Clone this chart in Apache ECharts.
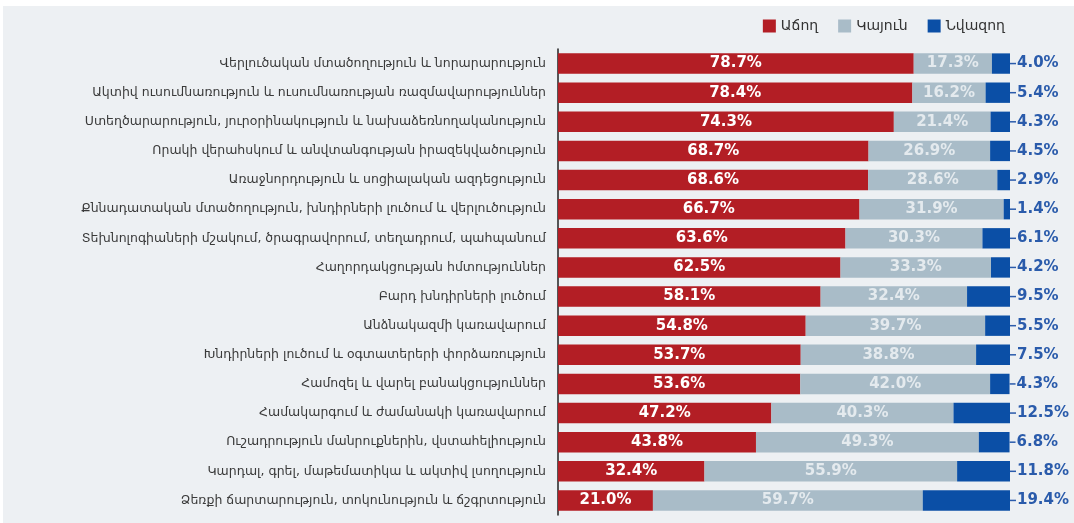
<!DOCTYPE html>
<html>
<head>
<meta charset="utf-8">
<script src="https://cdn.jsdelivr.net/npm/echarts@6/dist/echarts.min.js"></script>
<style>
  html, body { margin: 0; padding: 0; background: #fff; }
  #chart { position: absolute; left: 3px; top: 6px; width: 1071px; height: 517px; }
</style>
</head>
<body>
<div id="chart"></div>
<script>
// հմտություններ
var categories = [
  'Վերլուծական մտածողություն և նորարարություն',
  'Ակտիվ ուսումնառություն և ուսումնառության ռազմավարություններ',
  'Ստեղծարարություն, յուրօրինակություն և նախաձեռնողականություն',
  'Որակի վերահսկում և անվտանգության իրազեկվածություն',
  'Առաջնորդություն և սոցիալական ազդեցություն',
  'Քննադատական մտածողություն, խնդիրների լուծում և վերլուծություն',
  'Տեխնոլոգիաների մշակում, ծրագրավորում, տեղադրում, պահպանում',
  'Հաղորդակցության հմտություններ',
  'Բարդ խնդիրների լուծում',
  'Անձնակազմի կառավարում',
  'Խնդիրների լուծում և օգտատերերի փորձառություն',
  'Համոզել և վարել բանակցություններ',
  'Համակարգում և ժամանակի կառավարում',
  'Ուշադրություն մանրուքներին, վստահելիություն',
  'Կարդալ, գրել, մաթեմատիկա և ակտիվ լսողություն',
  'Ձեռքի ճարտարություն, տոկունություն և ճշգրտություն'
]
var seriesNames = ['Աճող', 'Կայուն', 'Նվազող']
var growing = [78.7, 78.4, 74.3, 68.7, 68.6, 66.7, 63.6, 62.5, 58.1, 54.8, 53.7, 53.6, 47.2, 43.8, 32.4, 21.0]
var stable = [17.3, 16.2, 21.4, 26.9, 28.6, 31.9, 30.3, 33.3, 32.4, 39.7, 38.8, 42.0, 40.3, 49.3, 55.9, 59.7]
var declining = [4.0, 5.4, 4.3, 4.5, 2.9, 1.4, 6.1, 4.2, 9.5, 5.5, 7.5, 4.3, 12.5, 6.8, 11.8, 19.4]

var colors = ['#b31e25', '#a9bcc8', '#0b4fa6']
var font = 'DejaVu Sans'

function pct (p) {
  return p.value.toFixed(1) + '%'
}

var chart = echarts.init(document.getElementById('chart'))
chart.setOption({
  backgroundColor: '#edf0f3',
  animation: false,
  color: colors,
  textStyle: { fontFamily: font },
  legend: {
    data: seriesNames,
    right: 64,
    top: 8,
    itemWidth: 13,
    itemHeight: 13,
    itemGap: 20,
    icon: 'rect',
    textStyle: { fontSize: 14, color: '#333', fontFamily: font }
  },
  grid: {
    left: 555,
    right: 64,
    top: 43,
    bottom: 8
  },
  xAxis: {
    type: 'value',
    min: 0,
    max: 100,
    show: false
  },
  yAxis: {
    type: 'category',
    inverse: true,
    data: categories,
    axisLine: { lineStyle: { color: '#222', width: 1.5 } },
    axisTick: { length: 6, lineStyle: { color: '#222', width: 1.5 } },
    axisLabel: {
      margin: 12,
      fontSize: 12.5,
      color: '#3a3a3a',
      fontFamily: font
    }
  },
  series: [
    {
      name: seriesNames[0],
      type: 'bar',
      stack: 'all',
      barCategoryGap: '30%',
      data: growing,
      label: {
        show: true,
        position: 'inside',
        color: '#fff',
        fontSize: 15,
        fontWeight: 'bold',
        fontFamily: font,
        formatter: pct
      }
    },
    {
      name: seriesNames[1],
      type: 'bar',
      stack: 'all',
      data: stable,
      label: {
        show: true,
        position: 'inside',
        color: '#e4eaee',
        fontSize: 15,
        fontWeight: 'bold',
        fontFamily: font,
        formatter: pct
      }
    },
    {
      name: seriesNames[2],
      type: 'bar',
      stack: 'all',
      data: declining,
      label: {
        show: true,
        position: 'right',
        distance: 0,
        formatter: function (p) {
          return '{d|}{v|' + pct(p) + '}'
        },
        rich: {
          d: { width: 6, height: 1.5, backgroundColor: '#2a5bab' },
          v: { color: '#2a5bab', fontSize: 15, fontWeight: 'bold', fontFamily: font, padding: [0, 0, 0, 1] }
        }
      }
    }
  ]
})
</script>
</body>
</html>
